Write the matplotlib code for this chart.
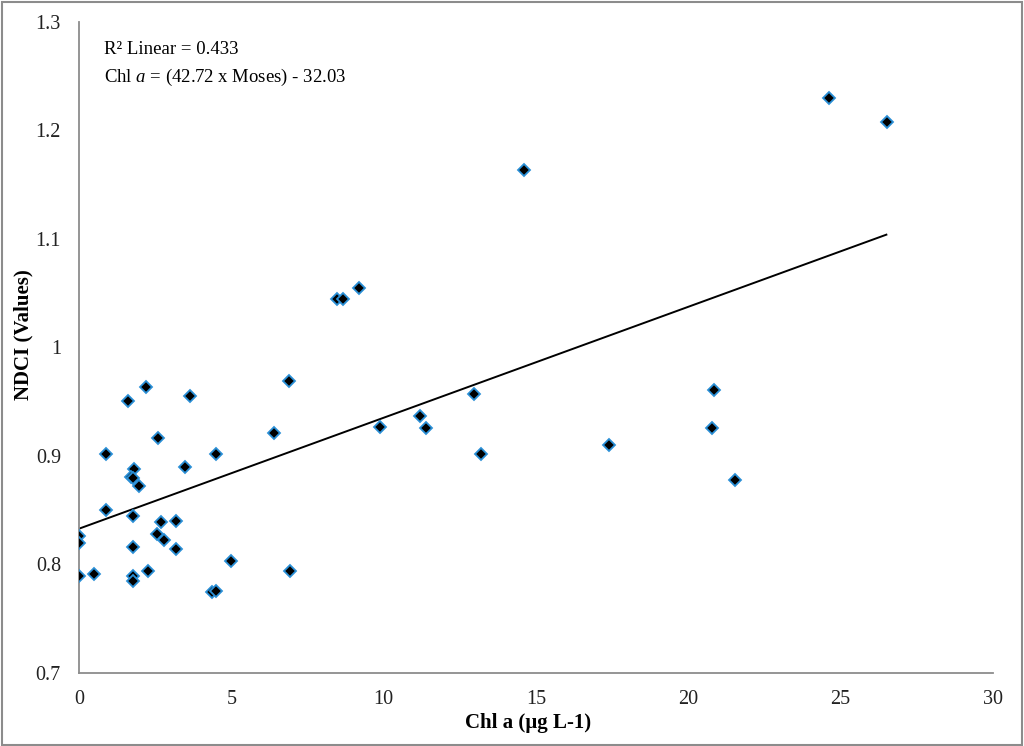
import numpy as np
import matplotlib
matplotlib.use("Agg")
import matplotlib.pyplot as plt
from matplotlib.patches import Rectangle
from matplotlib.ticker import FuncFormatter

chl_a = [2.19, 1.62, 3.64, 6.88, 6.39, 2.58, 0.90, 4.49, 3.48, 1.80, 1.70, 1.78,
         1.98, 0.90, 1.78, 2.69, 3.18, 2.57, 2.80, 0.00, 0.00, 1.78, 3.18, 4.98,
         0.00, 0.48, 1.78, 1.78, 2.28, 6.93, 4.35, 4.49,
         8.48, 8.68, 9.20, 12.97, 11.19, 11.39, 9.89, 13.20,
         24.61, 26.53, 20.85, 20.79, 17.41, 21.52, 14.60]
ndci = [0.964, 0.951, 0.955, 0.969, 0.921, 0.917, 0.902, 0.902, 0.890, 0.888, 0.881, 0.880,
        0.872, 0.850, 0.845, 0.839, 0.840, 0.828, 0.823, 0.826, 0.820, 0.816, 0.814, 0.803,
        0.789, 0.791, 0.789, 0.785, 0.794, 0.794, 0.775, 0.776,
        1.045, 1.045, 1.055, 0.957, 0.937, 0.926, 0.927, 0.902,
        1.230, 1.208, 0.961, 0.926, 0.910, 0.878, 1.164]

trend_x = [0.0, 26.5]
trend_y = [0.833, 1.104]

x_ticks = [0, 5, 10, 15, 20, 25, 30]
y_ticks = [0.7, 0.8, 0.9, 1.0, 1.1, 1.2, 1.3]

plt.rcParams['font.family'] = ['Liberation Serif', 'DejaVu Serif']
plt.rcParams['mathtext.fontset'] = 'custom'
plt.rcParams['mathtext.rm'] = 'Liberation Serif'
plt.rcParams['mathtext.it'] = 'Liberation Serif:italic'

fig = plt.figure(figsize=(10.24, 7.46), dpi=100)
ax = fig.add_axes([79/1024, 1 - 673/746, (993 - 79)/1024, (673 - 22)/746])

ax.plot(trend_x, trend_y, color='black', lw=1.4, zorder=2)
ax.plot(chl_a, ndci, linestyle='none', marker='D', markersize=6,
        markerfacecolor='black', markeredgecolor='#2a8fd6', markeredgewidth=1.3, zorder=3)

ax.set_xlim(0, 30)
ax.set_ylim(0.7, 1.3)
ax.set_xticks(x_ticks)
ax.set_yticks(y_ticks)
ax.yaxis.set_major_formatter(FuncFormatter(lambda v, p: f"{v:g}"))
ax.tick_params(axis='x', length=0, labelsize=14.5, pad=12, colors='#222222')
ax.tick_params(axis='y', length=0, labelsize=14.5, pad=13, colors='#222222')

for s in ['top', 'right']:
    ax.spines[s].set_visible(False)
for s in ['left', 'bottom']:
    ax.spines[s].set_color('#8c8c8c')
    ax.spines[s].set_linewidth(1.3)

ax.set_xlabel('Chl a (µg L-1)', fontsize=15, fontweight='bold')
ax.set_ylabel('NDCI (Values)', fontsize=15, fontweight='bold')
ax.xaxis.set_label_coords(0.491, -0.062)
ax.yaxis.set_label_coords(-0.050, 0.52)

ax.text(0.027, 0.958, 'R² Linear = 0.433', transform=ax.transAxes, fontsize=13.5,
        va='center', ha='left')
ax.text(0.027, 0.915, r'Chl $a$ = (42.72 x Moses) - 32.03', transform=ax.transAxes,
        fontsize=13.5, va='center', ha='left')

fig.patches.append(Rectangle((0.002, 0.002), 0.996, 0.995, transform=fig.transFigure,
                             fill=False, edgecolor='#8c8c8c', lw=1.5))

fig.savefig('out.png', dpi=100)
